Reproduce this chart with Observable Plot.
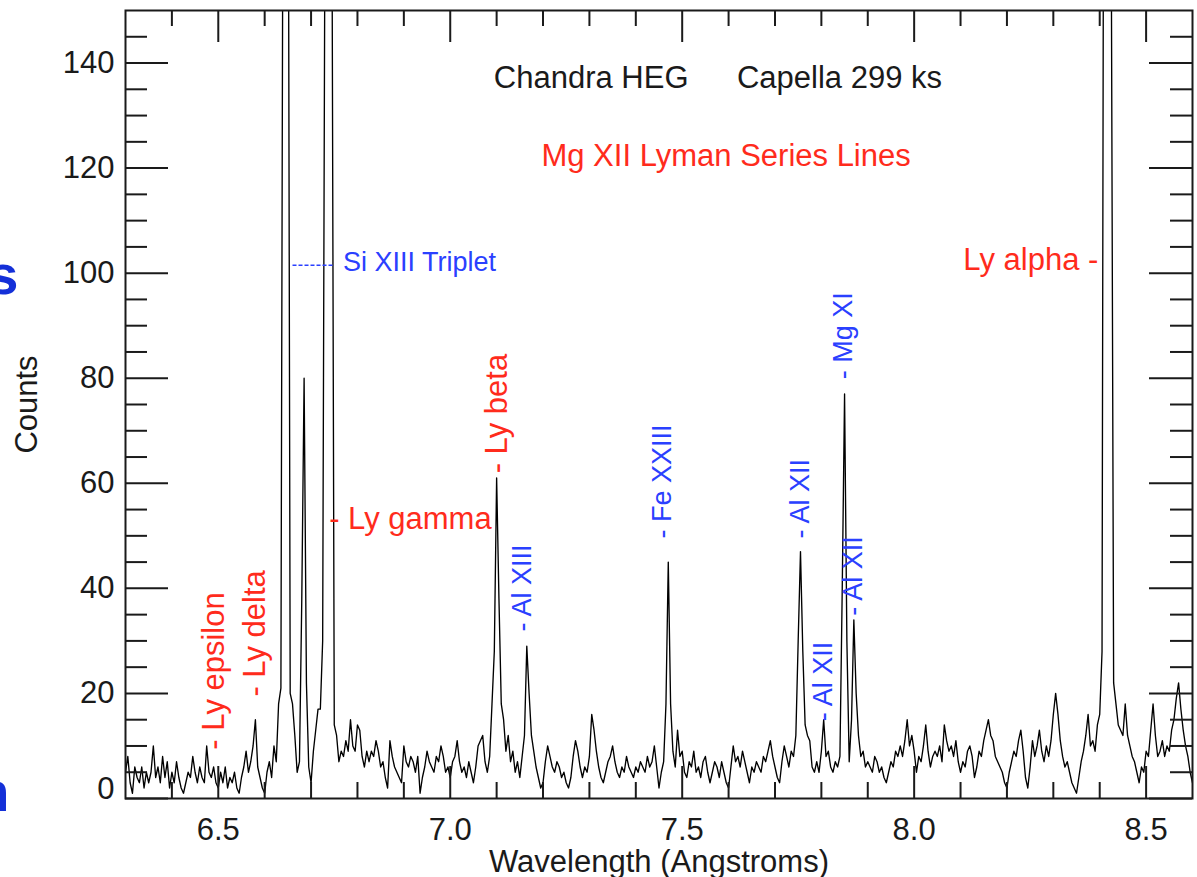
<!DOCTYPE html>
<html>
<head>
<meta charset="utf-8">
<script src="https://cdn.jsdelivr.net/npm/d3@7"></script>
<script src="https://cdn.jsdelivr.net/npm/@observablehq/plot@0.6"></script>
<style>
  html, body { margin: 0; padding: 0; background: #fff; }
  #chart { position: relative; width: 1197px; height: 877px; overflow: hidden; }
</style>
</head>
<body>
<div id="chart"></div>
<script>
// ---------------- data ----------------
// Chandra HEG spectrum of Capella: counts per 0.005 Å bin, first bin centre 6.300 Å
const binStart = 6.300;
const binWidth = 0.005;
const counts = [
  5,8,3,1,6,4,3,6,2,5,
  3,5,10,4,6,3,8,4,7,2,
  5,3,7,4,2,1,3,5,4,8,
  5,3,6,4,3,10,5,4,6,3,
  2,5,3,6,2,4,3,5,2,1,
  4,6,9,5,7,10,15,6,4,2,
  1,5,7,4,10,7,18,21,200,420,
  220,20,18,12,5,7,38,80,22,6,
  3,9,13,17,17,30,170,330,310,170,
  14,12,7,9,8,11,9,15,10,9,
  14,13,8,6,9,7,9,8,11,9,
  6,7,4,2,11,8,6,5,4,3,
  10,7,6,8,7,5,8,1,4,6,
  9,7,6,5,8,7,10,8,5,6,
  4,7,8,11,7,5,6,4,7,5,
  3,6,10,11,12,7,5,8,18,28,
  61,38,18,15,9,12,7,9,5,7,
  4,8,12,29,20,12,9,6,4,2,
  3,7,10,8,6,5,7,6,4,5,
  3,2,4,8,11,9,6,4,6,5,
  8,16,13,9,6,4,3,5,7,8,
  10,7,5,4,6,5,8,6,5,4,
  6,5,7,6,5,8,6,7,10,6,
  2,5,7,18,45,18,9,6,13,8,
  9,5,4,7,6,9,5,6,4,7,
  8,5,3,5,7,6,4,7,5,3,
  2,6,10,7,8,6,9,7,5,3,
  6,5,7,6,5,8,7,9,11,8,
  6,4,3,7,10,8,6,9,8,12,
  30,47,28,14,12,11,6,5,7,5,
  9,15,8,9,6,5,7,6,8,40,
  77,30,7,15,34,20,12,8,9,6,
  7,6,5,8,7,5,6,4,3,5,
  7,6,9,8,10,8,11,15,10,12,
  9,5,8,7,10,14,9,6,8,9,
  8,10,7,14,11,9,10,8,11,7,
  5,7,6,9,10,8,4,6,9,8,
  11,13,15,12,11,8,7,6,5,3,
  2,5,7,9,8,11,13,9,4,2,
  6,11,8,10,13,9,7,10,8,11,
  16,20,16,11,8,6,7,5,3,2,
  1,4,7,9,12,16,10,11,9,14,
  16,28,260,900,700,160,22,18,14,13,
  12,18,12,10,8,7,5,3,6,5,
  9,8,13,18,12,8,9,11,8,10,
  9,13,15,19,22,17,13,10,8,5,
  3
];

// axis ticks
const xMajorTicks = [6.5, 7.0, 7.5, 8.0, 8.5];
const xMinorTicks = [6.4, 6.6, 6.7, 6.8, 6.9, 7.1, 7.2, 7.3, 7.4, 7.6, 7.7, 7.8, 7.9, 8.1, 8.2, 8.3, 8.4];
const yMajorTicks = [0, 20, 40, 60, 80, 100, 120, 140];
const yMinorTicks = [5, 10, 15, 25, 30, 35, 45, 50, 55, 65, 70, 75, 85, 90, 95, 105, 110, 115, 125, 130, 135, 145];

// Mg XII Lyman-series identifications (vertical labels): text, wavelength, counts where label starts
const lymanVertNames = ["- Ly epsilon", "- Ly delta", "- Ly beta"];
const lymanVertWl    = [6.492, 6.580, 7.100];
const lymanVertAt    = [9.3, 19.4, 61.9];

// other ion identifications (vertical labels)
const ionVertNames = ["- Al XIII", "- Fe XXIII", "- Al XII", "- Al XII", "- Mg XI", "- Al XII"];
const ionVertWl    = [7.156, 7.457, 7.755, 7.804, 7.847, 7.869];
const ionVertAt    = [31.8, 49.5, 49.5, 14.7, 79.8, 34.8];

// horizontal labels
const titleNames = ["Chandra HEG", "Capella 299 ks"];
const titleWl    = [7.094, 7.618];
const titleAt    = [137.15, 137.15];

const seriesTitle = "Mg XII Lyman Series Lines";
const seriesTitleWl = 7.1966, seriesTitleAt = 122.2;
const lyAlpha = "Ly alpha -", lyAlphaWl = 8.397, lyAlphaAt = 102.4;
const lyGamma = "- Ly gamma", lyGammaWl = 6.739, lyGammaAt = 53.1;
const siTriplet = "Si XIII Triplet", siTripletWl = 6.7688, siTripletAt = 102.0;
const siTripletBracket = [6.660, 6.748];   // dashed pointer, Å
const siTripletBracketAt = 101.5;

// ---------------- build ----------------
const spectrum = counts.map((c, i) => ({wavelength: binStart + i * binWidth, counts: c}));
const lymanVert = lymanVertNames.map((name, i) => ({name, wl: lymanVertWl[i], at: lymanVertAt[i]}));
const ionVert = ionVertNames.map((name, i) => ({name, wl: ionVertWl[i], at: ionVertAt[i]}));
const titles = titleNames.map((name, i) => ({name, wl: titleWl[i], at: titleAt[i]}));

const W = 1197, H = 877, mL = 125, mR = 5, mT = 10, mB = 79;
const innerW = W - mL - mR, innerH = H - mT - mB;
const ink = "#1a1a1a", red = "#ff2b1c", blue = "#2a40ff";
const fs = 31, fsBlue = 27;

const chart = Plot.plot({
  width: W, height: H,
  marginLeft: mL, marginRight: mR, marginTop: mT, marginBottom: mB,
  x: {domain: [6.3, 8.6], axis: null},
  y: {domain: [0, 150], axis: null},
  style: {fontFamily: "'Liberation Sans', Arial, Helvetica, sans-serif", background: "#fff", color: ink},
  marks: [
    // spectrum
    Plot.line(spectrum, {x: "wavelength", y: "counts", stroke: "#000", strokeWidth: 1.35, clip: true}),
    // frame and ticks
    Plot.frame({stroke: ink, strokeWidth: 2}),
    Plot.tickX(xMinorTicks, {x: d => d, insetTop: innerH - 16, stroke: ink, strokeWidth: 2}),
    Plot.tickX(xMinorTicks, {x: d => d, insetBottom: innerH - 16, stroke: ink, strokeWidth: 2}),
    Plot.tickX(xMajorTicks, {x: d => d, insetTop: innerH - 32, stroke: ink, strokeWidth: 2}),
    Plot.tickX(xMajorTicks, {x: d => d, insetBottom: innerH - 32, stroke: ink, strokeWidth: 2}),
    Plot.tickY(yMinorTicks, {y: d => d, insetRight: innerW - 22, stroke: ink, strokeWidth: 2}),
    Plot.tickY(yMinorTicks, {y: d => d, insetLeft: innerW - 22, stroke: ink, strokeWidth: 2}),
    Plot.tickY(yMajorTicks, {y: d => d, insetRight: innerW - 43, stroke: ink, strokeWidth: 2}),
    Plot.tickY(yMajorTicks, {y: d => d, insetLeft: innerW - 43, stroke: ink, strokeWidth: 2}),
    // tick labels
    Plot.text(xMajorTicks, {x: d => d, frameAnchor: "bottom", dy: 19, lineAnchor: "top", textAnchor: "middle",
      text: d => d.toFixed(1), fontSize: fs, fill: ink}),
    Plot.text(yMajorTicks.filter(d => d > 0), {y: d => d, frameAnchor: "left", dx: -11, textAnchor: "end",
      text: d => String(d), fontSize: fs, fill: ink}),
    Plot.text(yMajorTicks.filter(d => d === 0), {y: d => d, frameAnchor: "left", dx: -11, dy: -9, textAnchor: "end",
      text: d => String(d), fontSize: fs, fill: ink}),
    // axis titles
    Plot.text(["Wavelength (Angstroms)"], {frameAnchor: "bottom", dy: 51, lineAnchor: "top", textAnchor: "middle",
      text: d => d, fontSize: fs, fill: ink}),
    Plot.text(["Counts"], {frameAnchor: "left", dx: -98, rotate: -90, textAnchor: "middle",
      text: d => d, fontSize: fs, fill: ink}),
    // header labels
    Plot.text(titles, {x: "wl", y: "at", text: "name", textAnchor: "start", fontSize: fs, fill: ink}),
    Plot.text([seriesTitle], {x: () => seriesTitleWl, y: () => seriesTitleAt, text: d => d,
      textAnchor: "start", fontSize: fs, fill: red}),
    Plot.text([lyAlpha], {x: () => lyAlphaWl, y: () => lyAlphaAt, text: d => d,
      textAnchor: "end", fontSize: fs, fill: red}),
    Plot.text([lyGamma], {x: () => lyGammaWl, y: () => lyGammaAt, text: d => d,
      textAnchor: "start", fontSize: fs, fill: red}),
    Plot.text([siTriplet], {x: () => siTripletWl, y: () => siTripletAt, text: d => d,
      textAnchor: "start", fontSize: fsBlue, fill: blue}),
    Plot.link([siTripletBracket], {x1: d => d[0], x2: d => d[1], y1: () => siTripletBracketAt, y2: () => siTripletBracketAt,
      stroke: blue, strokeWidth: 1.5, strokeDasharray: "4,2"}),
    // vertical identifications
    Plot.text(lymanVert, {x: "wl", y: "at", text: "name", rotate: -90, textAnchor: "start",
      fontSize: fs, fill: red}),
    Plot.text(ionVert, {x: "wl", y: "at", text: "name", rotate: -90, textAnchor: "start",
      fontSize: fsBlue, fill: blue}),
    // fragments of neighbouring slide text at far left edge
    Plot.text(["s"], {frameAnchor: "top-left", dx: 18 - mL, dy: 293 - mT, lineAnchor: "bottom", textAnchor: "end",
      text: d => d, fontSize: 56, fontWeight: "bold", fill: "#1430d8"}),
    Plot.text(["n"], {frameAnchor: "top-left", dx: 9 - mL, dy: 810 - mT, lineAnchor: "bottom", textAnchor: "end",
      text: d => d, fontSize: 56, fontWeight: "bold", fill: "#1430d8"})
  ]
});
document.getElementById("chart").appendChild(chart);
</script>
</body>
</html>
